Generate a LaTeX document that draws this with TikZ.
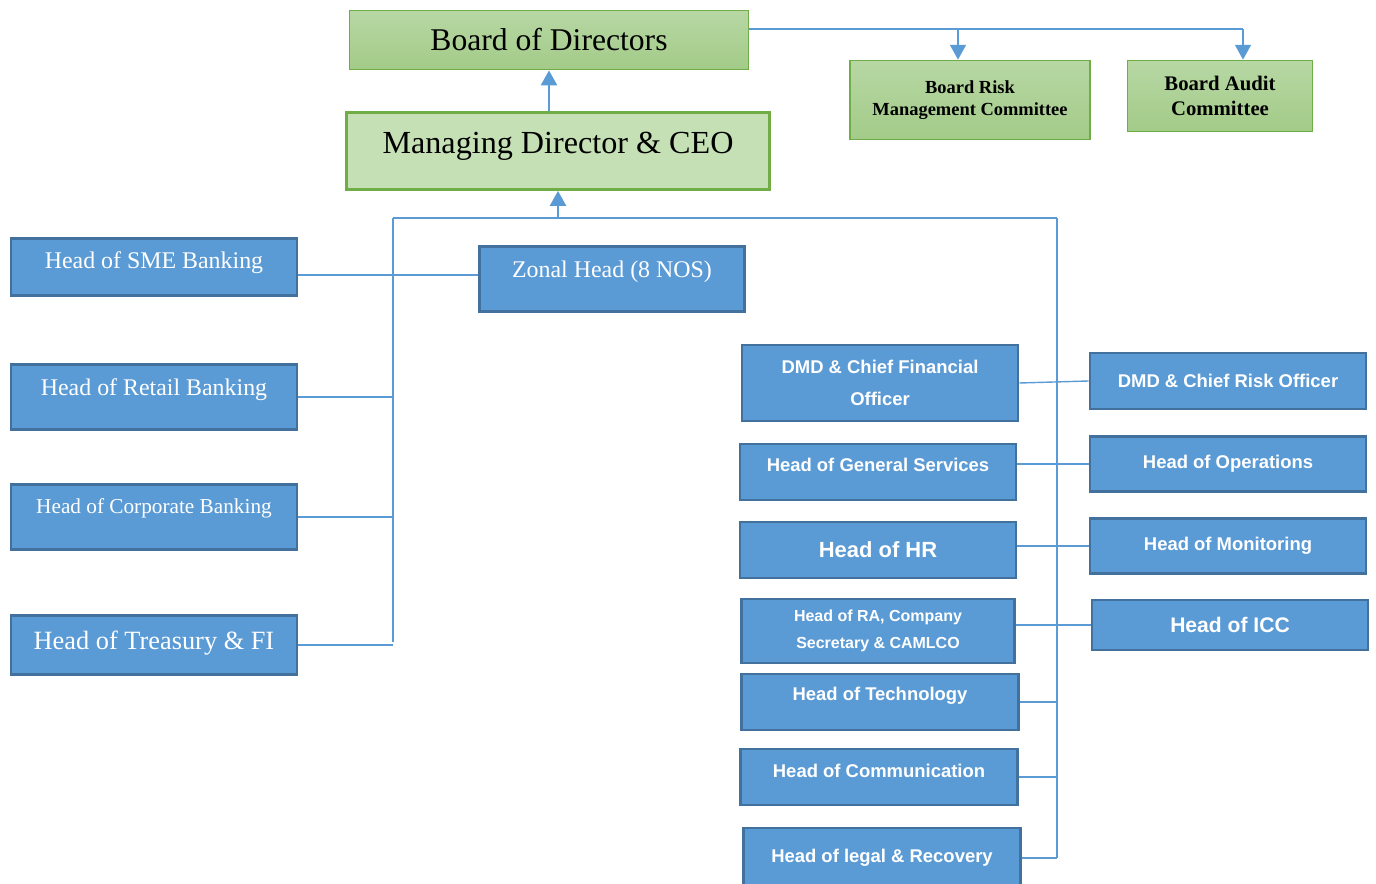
\documentclass[tikz,border=0pt]{standalone}
\usepackage{fontspec}
\setmainfont{Liberation Serif}
\setsansfont{Liberation Sans}
\usepackage{tikz}
\usetikzlibrary{positioning, arrows.meta}

\definecolor{bfill}{HTML}{5B9BD5}
\definecolor{bdraw}{HTML}{41719C}
\definecolor{gdraw}{HTML}{70AD47}
\definecolor{gtop}{HTML}{B7D7A4}
\definecolor{gbot}{HTML}{A3CB88}
\definecolor{gflat}{HTML}{C5E0B4}

\begin{document}
\begin{tikzpicture}[
        x = 0.02cm, y = -0.02cm,
     gbox/.style = {rectangle, draw=gdraw, line width=1pt, align=center, text=black},
   gshade/.style = {gbox, top color=gtop, bottom color=gbot},
     bbox/.style = {rectangle, draw=bdraw, line width=1.6pt, fill=bfill, text=white,
                    align=center},
     serb/.style = {bbox, font=\fontsize{13.6}{16}\selectfont},
     sanb/.style = {bbox, font=\sffamily\bfseries\fontsize{10.5}{18}\selectfont},
     lift/.style = {text depth=#1},
    bline/.style = {draw=bfill, line width=0.8pt},
     uarr/.style = {draw=bfill, line width=1.6pt, -{Triangle[width=9pt,length=8.5pt]}}
                        ]
\useasboundingbox (0,0) rectangle (1376,884);
% board level
\node (bod) [gshade, minimum width=7.98cm, minimum height=1.18cm,
             font=\fontsize{18}{22}\selectfont] at (549,40) {Board of Directors};
\node (md)  [gbox, fill=gflat, line width=1.6pt, lift=9pt, minimum width=8.46cm, minimum height=1.54cm,
             font=\fontsize{18.3}{22}\selectfont] at (558,151) {Managing Director \& CEO};
\node (brmc)[gshade, line width=0.9pt, minimum width=4.8cm, minimum height=1.58cm,
             font=\bfseries\fontsize{10.5}{12.5}\selectfont] at (970,100) {Board Risk\\Management Committee};
\node (bac) [gshade, line width=0.9pt, minimum width=3.7cm, minimum height=1.42cm,
             font=\bfseries\fontsize{11.8}{14.2}\selectfont] at (1220,96) {Board Audit\\Committee};
% left column
\node (sme)    [serb, lift=7.6pt, minimum width=5.72cm, minimum height=1.14cm] at (154,267) {Head of SME Banking};
\node (retail) [serb, lift=11pt, minimum width=5.72cm, minimum height=1.3cm] at (154,397) {Head of Retail Banking};
\node (corp)   [serb, lift=13pt, minimum width=5.72cm, minimum height=1.3cm,
                font=\fontsize{12.1}{14}\selectfont] at (154,517) {Head of Corporate Banking};
\node (treas)  [serb, lift=6pt, minimum width=5.72cm, minimum height=1.18cm,
                font=\fontsize{15}{18}\selectfont] at (154,645) {Head of Treasury \& FI};
\node (zonal)  [serb, lift=11pt, minimum width=5.3cm, minimum height=1.3cm] at (612,279) {Zonal Head (8 NOS)};
% right columns
\node (cfo)  [sanb, minimum width=5.52cm, minimum height=1.52cm] at (880,383) {DMD \& Chief Financial\\Officer};
\node (cro)  [sanb, minimum width=5.52cm, minimum height=1.12cm] at (1228,381) {DMD \& Chief Risk Officer};
\node (gs)   [sanb, lift=8pt, minimum width=5.52cm, minimum height=1.12cm] at (878,472) {Head of General Services};
\node (ops)  [sanb, minimum width=5.52cm, minimum height=1.1cm] at (1228,464) {Head of Operations};
\node (hr)   [sanb, minimum width=5.52cm, minimum height=1.12cm,
              font=\sffamily\bfseries\fontsize{12.5}{15}\selectfont] at (878,550) {Head of HR};
\node (mon)  [sanb, minimum width=5.52cm, minimum height=1.1cm] at (1228,546) {Head of Monitoring};
\node (ra)   [sanb, minimum width=5.46cm, minimum height=1.28cm,
              font=\sffamily\bfseries\fontsize{9.1}{15.3}\selectfont] at (878,631) {Head of RA, Company\\Secretary \& CAMLCO};
\node (icc)  [sanb, minimum width=5.52cm, minimum height=1cm,
              font=\sffamily\bfseries\fontsize{12}{14}\selectfont] at (1230,625) {Head of ICC};
\node (tech) [sanb, lift=9pt, minimum width=5.54cm, minimum height=1.12cm] at (880,702) {Head of Technology};
\node (comm) [sanb, lift=7pt, minimum width=5.54cm, minimum height=1.12cm] at (879,777) {Head of Communication};
\node (legal)[sanb, minimum width=5.54cm, minimum height=1.2cm] at (882,858) {Head of legal \& Recovery};
% bus lines
\coordinate (lb)  at (393,218);
\coordinate (lbe) at (393,642);
\coordinate (rb)  at (1057,218);
\coordinate (rbe) at (1057,858);
\coordinate (brk) at (958,29);
\coordinate (brt) at (1243,29);
\draw[bline] (lb) -- (rb);
\draw[bline] (lb) -- (lbe);
\draw[bline] (rb) -- (rbe);
\draw[uarr] (md.south |- lb) -- (md.south);
\draw[uarr] (md.north -| bod.south) -- (bod.south);
\draw[bline] (bod.east |- brt) -- (brt);
\draw[uarr, line width=1.3pt] (brk) -- (brk |- brmc.north);
\draw[uarr, line width=1.3pt] (brt) -- (brt |- bac.north);
% left links
\draw[bline] ([yshift=-0.16cm]sme.east) -- ([yshift=-0.16cm]sme.east -| zonal.west);
\draw[bline] (retail.east) -- (retail.east -| lb);
\draw[bline] (corp.east) -- (corp.east -| lb);
\draw[bline] (treas.east) -- (treas.east -| lb);
% right links
\draw[bline] (cfo.east) -- (cro.west);
\draw[bline] (gs.east |- ops.west) -- (ops.west);
\draw[bline] (hr.east |- mon.west) -- (mon.west);
\draw[bline] (ra.east |- icc.west) -- (icc.west);
\draw[bline] (tech.east) -- (tech.east -| rb);
\draw[bline] (comm.east) -- (comm.east -| rb);
\draw[bline] (legal.east) -- (legal.east -| rb);
\end{tikzpicture}
\end{document}
